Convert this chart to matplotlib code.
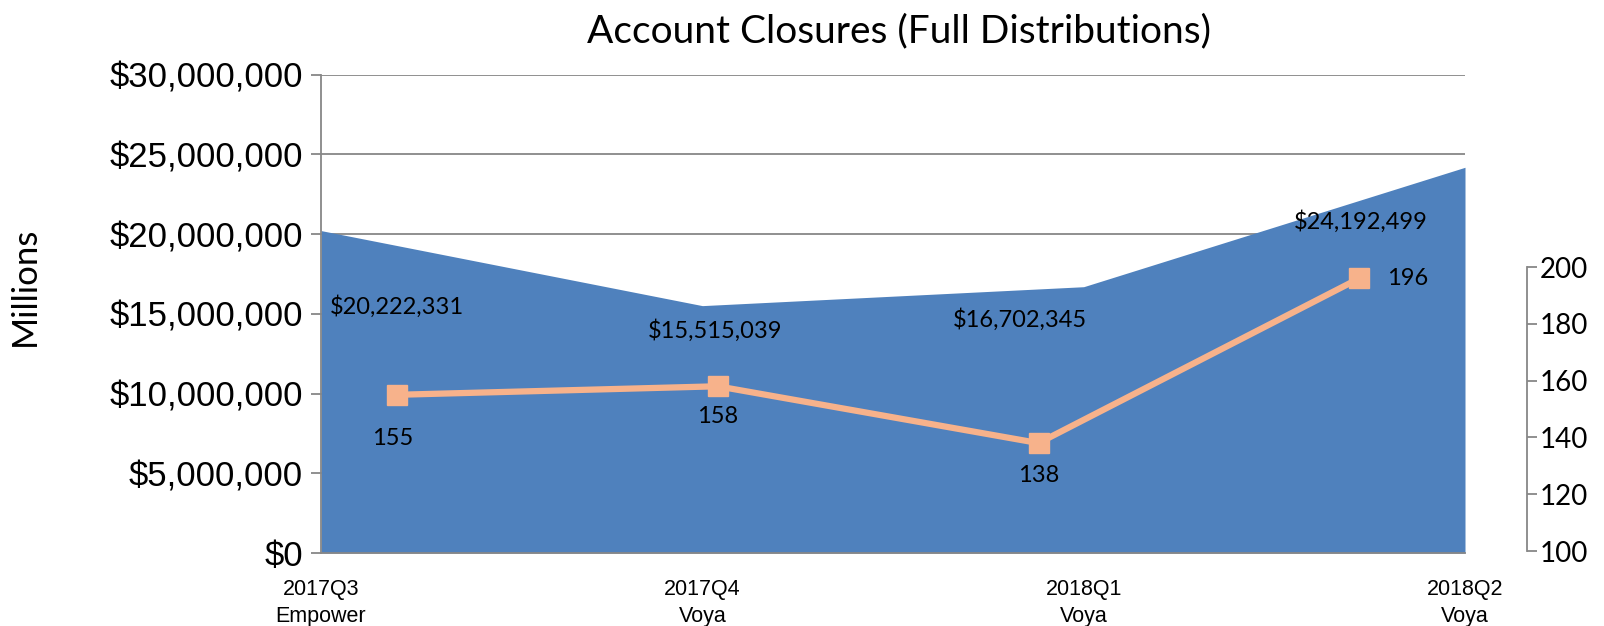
import numpy as np
import matplotlib.pyplot as plt
from matplotlib.ticker import FuncFormatter

quarters = ["2017Q3\nEmpower", "2017Q4\nVoya", "2018Q1\nVoya", "2018Q2\nVoya"]
amounts = [20222331, 15515039, 16702345, 24192499]
closures = [155, 158, 138, 196]

# label offsets in pixels (dx, dy), purely cosmetic
amountOffsets = [(0, -76), (-3, -25), (-19, -33), (2, -54)]
countOffsets = [(-4, -44), (0, -30), (0, -32), (48, 0)]

areaColor = '#4F81BD'
lineColor = '#F7B28B'
gridColor = '#878787'
calibriLike = ['Lato', 'DejaVu Sans']
arialLike = ['Liberation Sans', 'DejaVu Sans']

W, H = 1604, 626
fig = plt.figure(figsize=(W / 100, H / 100), dpi=100)

def box(x0, x1, yTop, yBottom):
    return [x0 / W, (H - yBottom) / H, (x1 - x0) / W, (yBottom - yTop) / H]

ax = fig.add_axes(box(321, 1465, 74.7, 553))
x = np.arange(len(amounts))
ax.fill_between(x, amounts, 0, color=areaColor, linewidth=0, zorder=2)
ax.set_xlim(0, len(amounts) - 1)
ax.set_ylim(0, 30000000)
ax.set_yticks(np.arange(0, 30000001, 5000000))
ax.yaxis.set_major_formatter(FuncFormatter(lambda v, p: f"${v:,.0f}"))
ax.grid(axis='y', color=gridColor, linewidth=1.3, zorder=1)
ax.set_axisbelow(True)
for s in ['top', 'right']:
    ax.spines[s].set_visible(False)
for s in ['left', 'bottom']:
    ax.spines[s].set_color(gridColor)
    ax.spines[s].set_linewidth(1.3)
    ax.spines[s].set_zorder(3)
ax.tick_params(axis='y', length=7, width=1.3, color=gridColor, pad=6)
ax.tick_params(axis='x', length=0, pad=19)
ax.set_xticks(x)
ax.set_xticklabels(quarters, family=arialLike, fontsize=15.5, linespacing=1.35)
for lbl in ax.get_yticklabels():
    lbl.set_family(arialLike)
    lbl.set_fontsize(25)
ax.set_ylabel('Millions', family=calibriLike, fontsize=25)
ax.yaxis.set_label_coords(-0.245, 0.558)

ax.set_title('Account Closures (Full Distributions)', family=calibriLike, fontsize=28, pad=23, x=0.505)

# secondary chart: number of closures
ax2 = fig.add_axes(box(321, 1527, 267, 551))
ax2.patch.set_visible(False)
ax2.plot(x, closures, color=lineColor, linewidth=4.5, marker='s', markersize=14, zorder=5)
ax2.set_xlim(-0.237, 3.523)
ax2.set_ylim(100, 200)
ax2.set_yticks(np.arange(100, 201, 20))
ax2.set_xticks([])
for s in ['top', 'left', 'bottom']:
    ax2.spines[s].set_visible(False)
ax2.spines['right'].set_color(gridColor)
ax2.spines['right'].set_linewidth(1.3)
ax2.yaxis.tick_right()
ax2.tick_params(axis='y', length=7, width=1.3, color=gridColor, pad=2, labelsize=20)
for lbl in ax2.get_yticklabels():
    lbl.set_family(calibriLike)

for i, v in enumerate(amounts):
    ax2.annotate(f"${v:,}", xy=(i, v), xycoords=(ax2.transData, ax.transData),
                 xytext=amountOffsets[i], textcoords='offset pixels',
                 ha='center', va='center', family=calibriLike, fontsize=17)

for i, v in enumerate(closures):
    ax2.annotate(str(v), xy=(i, v), xytext=countOffsets[i], textcoords='offset pixels',
                 ha='center', va='center', family=calibriLike, fontsize=17)

plt.savefig('out.png', dpi=100)
